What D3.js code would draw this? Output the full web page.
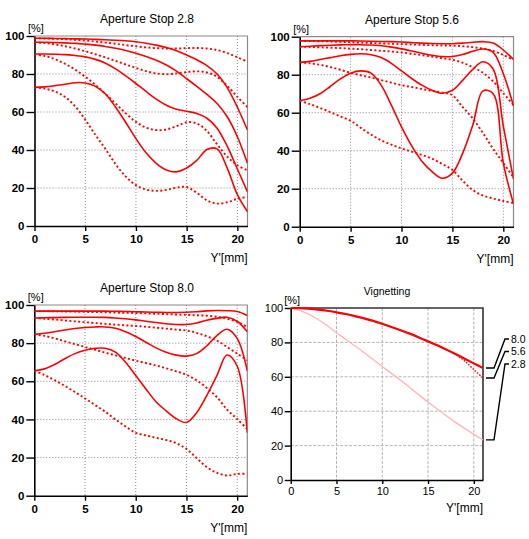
<!DOCTYPE html>
<html lang="en">
<head>
<meta charset="utf-8">
<title>MTF / Vignetting</title>
<script src="https://d3js.org/d3.v7.min.js"></script>
<style>
  body { margin: 0; background: #fff; }
  svg text { font-family: "Liberation Sans", Arial, sans-serif; fill: #000; }
</style>
</head>
<body>
<svg width="529" height="539"></svg>
<script>
    // image height Y' [mm], sample points shared by every curve
    var imgHeight = [0,1,2,3,4,5,6,7,8,9,10,11,12,13,14,15,16,17,18,19,20,21];
    var xTicks = [0,5,10,15,20];
    var yTicks = [0,20,40,60,80,100];

    // Aperture Stop 2.8 (solid / dashed pairs, 4 spatial frequencies)
    var stop28Solid = [
        [98.8,98.8,98.7,98.6,98.5,98.4,98.2,98.0,97.8,97.5,97.0,96.2,95.2,93.9,92.2,90.0,87.5,84.4,80.0,72.8,62.5,50.5],
        [96.7,96.7,96.6,96.4,96.1,95.7,95.2,94.5,93.6,92.4,90.9,89.2,87.2,84.7,81.5,77.5,73.5,69.3,64.5,57.5,47.0,33.0],
        [90.5,90.5,90.4,90.2,89.7,89.0,87.7,85.7,82.7,79.0,75.0,70.8,66.8,63.6,61.5,60.4,59.2,56.7,51.5,42.0,30.0,18.0],
        [73.0,73.2,73.8,74.6,75.4,75.3,73.5,69.5,62.5,54.5,46.0,38.5,33.0,29.5,28.5,30.5,34.5,40.3,40.6,30.5,16.5,7.5]
    ];
    var stop28Dashed = [
        [98.8,98.7,98.5,98.3,98.0,97.6,97.1,96.5,95.9,95.2,94.6,94.0,93.6,93.4,93.4,93.6,93.7,93.4,92.6,91.0,88.8,86.5],
        [96.7,96.3,95.6,94.6,93.4,92.0,90.4,88.7,86.9,85.0,83.2,81.5,80.3,79.9,80.3,81.0,81.4,80.8,78.5,73.8,68.0,62.5],
        [90.3,89.5,87.8,85.4,82.3,78.6,74.3,69.5,64.4,59.3,54.8,51.8,50.5,50.8,52.5,54.6,54.0,50.0,43.0,36.5,32.0,29.3],
        [73.0,72.3,70.8,68.0,63.0,56.0,48.0,40.5,32.5,26.0,21.5,19.2,18.5,19.0,20.2,20.5,17.5,13.5,11.8,12.5,14.3,15.3]
    ];

    // Aperture Stop 5.6
    var stop56Solid = [
        [97.8,97.8,97.8,97.8,97.8,97.8,97.7,97.6,97.5,97.4,97.2,96.9,96.6,96.4,96.3,96.3,96.6,97.1,97.4,96.7,93.0,88.0],
        [94.7,95.0,95.3,95.5,95.7,95.8,95.8,95.6,95.2,94.5,93.6,92.5,91.3,90.2,89.5,89.6,90.6,92.3,93.5,91.8,80.5,63.5],
        [86.5,87.0,88.0,89.0,90.0,90.7,91.0,90.5,89.0,86.0,82.0,78.0,74.5,71.8,70.2,71.8,77.0,82.8,86.8,83.0,53.0,25.0],
        [66.3,67.6,70.0,73.8,77.8,80.8,82.0,80.8,74.5,64.0,52.5,42.5,34.5,29.0,25.5,28.2,38.6,53.5,71.5,70.0,33.5,12.0]
    ];
    var stop56Dashed = [
        [97.8,97.7,97.6,97.5,97.3,97.1,96.9,96.7,96.5,96.3,96.1,95.9,95.7,95.5,95.4,95.3,95.0,94.5,93.7,92.5,90.4,87.8],
        [94.7,94.6,94.4,94.2,94.0,93.7,93.4,93.0,92.6,92.2,91.7,91.0,90.3,89.5,88.6,87.9,86.3,84.0,81.0,76.5,70.3,64.0],
        [86.5,86.0,85.2,84.0,82.6,81.0,79.7,78.5,77.2,75.8,74.5,73.5,72.5,71.5,70.6,69.2,63.0,57.0,49.3,41.0,33.5,26.0],
        [66.3,64.5,62.5,60.3,58.0,55.8,52.0,48.5,45.5,43.2,41.2,39.5,37.8,35.8,33.0,29.9,24.2,19.3,16.4,14.9,13.5,12.5]
    ];

    // Aperture Stop 8.0
    var stop80Solid = [
        [96.8,96.8,96.8,96.8,96.8,96.8,96.8,96.8,96.7,96.6,96.5,96.3,96.2,96.1,96.1,96.2,96.5,96.9,97.1,97.0,96.6,94.5],
        [93.2,93.3,93.4,93.5,93.6,93.6,93.6,93.5,93.2,92.8,92.2,91.5,90.8,90.2,89.8,89.8,90.6,92.0,93.0,93.6,91.5,86.0],
        [84.6,85.2,86.0,86.9,87.7,88.2,88.5,88.5,87.8,86.0,83.5,80.5,77.5,75.2,73.7,73.2,74.5,78.5,84.0,87.3,82.5,65.5],
        [65.5,66.5,68.8,71.8,74.5,76.3,77.3,77.3,75.3,70.0,63.0,56.0,49.3,44.5,40.4,38.4,43.5,52.5,63.0,73.8,68.0,33.0]
    ];
    var stop80Dashed = [
        [96.8,96.8,96.7,96.6,96.5,96.4,96.3,96.2,96.0,95.9,95.8,95.6,95.4,95.2,95.0,94.8,94.6,94.4,93.8,92.8,91.2,88.5],
        [93.2,92.8,92.4,91.9,91.4,91.0,90.5,90.1,89.7,89.3,89.0,88.6,88.1,87.6,87.1,86.6,85.4,83.6,81.4,78.0,74.5,71.0],
        [84.6,83.8,82.5,81.0,79.5,78.0,76.5,75.0,73.6,72.2,70.8,69.6,68.3,66.8,65.2,63.4,60.5,56.5,51.7,45.2,40.2,35.0],
        [65.5,63.3,60.6,57.6,54.4,51.0,47.5,44.0,40.0,36.3,33.0,31.6,30.4,29.2,27.5,24.5,19.8,15.0,12.0,10.6,11.4,11.5]
    ];

    // Vignetting per aperture
    var vigLabels = ["8.0","5.6","2.8"];
    var vig80 = [100,99.9,99.6,99.1,98.4,97.5,96.5,95.3,94.0,92.5,90.8,89.0,87.1,85.1,82.9,80.6,78.3,75.8,73.2,70.5,67.8,65.1];
    var vig56 = [100,99.9,99.6,99.1,98.4,97.5,96.5,95.3,94.0,92.5,90.8,89.0,87.1,85.1,82.9,80.6,78.3,75.8,73.0,69.2,64.2,59.3];
    var vig28 = [100,98.5,96.3,93.3,89.7,85.6,81.8,78.0,74.1,70.0,66.0,62.0,58.0,53.8,49.5,45.3,41.3,37.3,33.5,30.0,26.5,23.3];

    var svg = d3.select("svg");
    svg.append("rect").attr("width",529).attr("height",539).attr("fill","#fff");

    var mtfPanels = [
        {title:"Aperture Stop 2.8", left:34.5, right:247.5, top:36, bottom:226, titleX:147, solid:stop28Solid, dashed:stop28Dashed},
        {title:"Aperture Stop 5.6", left:299.7, right:513.5, top:36.7, bottom:226.7, titleX:412, solid:stop56Solid, dashed:stop56Dashed},
        {title:"Aperture Stop 8.0", left:34.3, right:247.3, top:305, bottom:495.7, titleX:147, solid:stop80Solid, dashed:stop80Dashed}
    ];

    function drawPanel(p, id, opt) {
        var x = d3.scaleLinear().domain([0,21]).range([p.left,p.right]);
        var y = d3.scaleLinear().domain([0,100]).range([p.bottom,p.top]);
        var g = svg.append("g");

        // grid
        g.selectAll(".gx").data(xTicks.slice(1)).enter().append("line")
            .attr("x1",function(d){return x(d);}).attr("x2",function(d){return x(d);})
            .attr("y1",p.top).attr("y2",p.bottom)
            .attr("stroke",opt.gridColor).attr("stroke-width",1).attr("stroke-dasharray",opt.gridDash);
        g.selectAll(".gy").data(yTicks.slice(1,-1)).enter().append("line")
            .attr("y1",function(d){return y(d);}).attr("y2",function(d){return y(d);})
            .attr("x1",p.left).attr("x2",p.right)
            .attr("stroke",opt.gridColor).attr("stroke-width",1).attr("stroke-dasharray",opt.gridDash);

        // top / right frame
        g.append("path")
            .attr("d","M"+p.left+","+p.top+"H"+p.right+"V"+p.bottom)
            .attr("fill","none").attr("stroke",opt.frameColor).attr("stroke-width",opt.frameWidth);

        g.append("clipPath").attr("id","clip"+id)
            .append("rect").attr("x",p.left).attr("y",p.top-2)
            .attr("width",p.right-p.left).attr("height",p.bottom-p.top+2);

        // axes
        var ax = g.append("g").attr("transform","translate("+p.left+",0)")
            .call(d3.axisLeft(y).tickValues(yTicks).tickSize(opt.yTick).tickPadding(opt.yPad).tickSizeOuter(0));
        var bx = g.append("g").attr("transform","translate(0,"+p.bottom+")")
            .call(d3.axisBottom(x).tickValues(xTicks).tickSize(opt.xTick).tickPadding(opt.xPad).tickSizeOuter(0));
        [ax,bx].forEach(function(a){
            a.select(".domain").attr("stroke","#000").attr("stroke-width",1.6);
            a.selectAll(".tick line").attr("stroke","#000").attr("stroke-width",1.4);
            a.selectAll("text").attr("font-family","Liberation Sans, Arial, sans-serif")
                .attr("font-size",opt.tickFont).attr("font-weight",opt.tickWeight).attr("fill","#000");
        });

        g.append("text").attr("x",p.titleX).attr("y",p.top-13)
            .attr("text-anchor","middle").attr("font-size",opt.titleFont).text(p.title);
        g.append("text").attr("x",p.left-6.5).attr("y",p.top-4)
            .attr("font-size",11).text("[%]");
        g.append("text").attr("x",p.right).attr("y",p.bottom+opt.unitDy)
            .attr("text-anchor","end").attr("font-size",12).text("Y'[mm]");

        return {g:g, x:x, y:y};
    }

    var mtfStyle = {gridColor:"#8a8a8a", gridDash:"1,2", frameColor:"#8a8a8a", frameWidth:1.2,
        yTick:8, yPad:2, xTick:5, xPad:4, tickFont:11.5, tickWeight:"bold", titleFont:12, unitDy:36};

    mtfPanels.forEach(function(p,i){
        var s = drawPanel(p, i, mtfStyle);
        var line = d3.line()
            .x(function(d,j){return s.x(imgHeight[j]);})
            .y(function(d){return s.y(d);})
            .curve(d3.curveCatmullRom);
        var c = s.g.append("g").attr("clip-path","url(#clip"+i+")");
        c.selectAll(".dashed").data(p.dashed).enter().append("path")
            .attr("d",line).attr("fill","none").attr("stroke","#ff0000")
            .attr("stroke-width",1.9).attr("stroke-dasharray","2,2.4");
        c.selectAll(".solid").data(p.solid).enter().append("path")
            .attr("d",line).attr("fill","none").attr("stroke","#ff0000")
            .attr("stroke-width",1.6);
    });

    // Vignetting
    var vp = {title:"Vignetting", left:290.7, right:483, top:308, bottom:480, titleX:387};
    var vs = drawPanel(vp, 3, {gridColor:"#b5b5b5", gridDash:"3,1.5", frameColor:"#333", frameWidth:1.6,
        yTick:6, yPad:1.5, xTick:4, xPad:3, tickFont:11, tickWeight:"normal", titleFont:10.5, unitDy:32});
    var vline = d3.line()
        .x(function(d,j){return vs.x(imgHeight[j]);})
        .y(function(d){return vs.y(d);})
        .curve(d3.curveCatmullRom);
    var vc = vs.g.append("g").attr("clip-path","url(#clip3)");
    vc.append("path").attr("d",vline(vig28)).attr("fill","none").attr("stroke","#ffb6b6").attr("stroke-width",1.3);
    vc.append("path").attr("d",vline(vig80)).attr("fill","none").attr("stroke","#ff0000").attr("stroke-width",2.2);
    vc.append("path").attr("d",vline(vig56)).attr("fill","none").attr("stroke","#ff0000")
        .attr("stroke-width",1.4).attr("stroke-dasharray","1.5,1.5");

    // leader lines to the aperture labels
    [vig80, vig56, vig28].forEach(function(v,i){
        var endY = vs.y(v[v.length-1]);
        var ly = vp.top + 31 + i*12.5;
        vs.g.append("path")
            .attr("d","M"+(vp.right+3)+","+endY+"H"+(vp.right+11)+"L"+(vp.right+22)+","+ly+"H"+(vp.right+26))
            .attr("fill","none").attr("stroke","#000").attr("stroke-width",1.4);
        vs.g.append("text").attr("x",vp.right+28).attr("y",ly+3.5)
            .attr("font-size",10.5).text(vigLabels[i]);
    });
</script>
</body>
</html>
